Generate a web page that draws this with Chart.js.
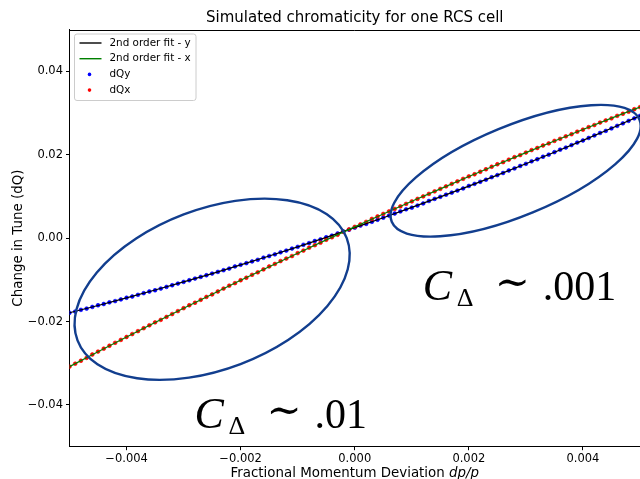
<!DOCTYPE html>
<html>
<head>
<meta charset="utf-8">
<script src="https://cdn.jsdelivr.net/npm/chart.js@4.4.1/dist/chart.umd.min.js"></script>
<style>
  html, body { margin: 0; padding: 0; background: #fff; }
  #chart { display: block; }
</style>
</head>
<body>
<canvas id="chart" width="640" height="479"></canvas>
<script>
// momentum deviation dp/p for each simulated point
const dpp = [
  -0.0050, -0.0049, -0.0048, -0.0047, -0.0046, -0.0045, -0.0044, -0.0043, -0.0042, -0.0041,
  -0.0040, -0.0039, -0.0038, -0.0037, -0.0036, -0.0035, -0.0034, -0.0033, -0.0032, -0.0031,
  -0.0030, -0.0029, -0.0028, -0.0027, -0.0026, -0.0025, -0.0024, -0.0023, -0.0022, -0.0021,
  -0.0020, -0.0019, -0.0018, -0.0017, -0.0016, -0.0015, -0.0014, -0.0013, -0.0012, -0.0011,
  -0.0010, -0.0009, -0.0008, -0.0007, -0.0006, -0.0005, -0.0004, -0.0003, -0.0002, -0.0001,
  0.0000,
  0.0001, 0.0002, 0.0003, 0.0004, 0.0005, 0.0006, 0.0007, 0.0008, 0.0009, 0.0010,
  0.0011, 0.0012, 0.0013, 0.0014, 0.0015, 0.0016, 0.0017, 0.0018, 0.0019, 0.0020,
  0.0021, 0.0022, 0.0023, 0.0024, 0.0025, 0.0026, 0.0027, 0.0028, 0.0029, 0.0030,
  0.0031, 0.0032, 0.0033, 0.0034, 0.0035, 0.0036, 0.0037, 0.0038, 0.0039, 0.0040,
  0.0041, 0.0042, 0.0043, 0.0044, 0.0045, 0.0046, 0.0047, 0.0048, 0.0049, 0.0050
];
const dQy = [
  -0.0179, -0.0176, -0.0172, -0.0169, -0.0165, -0.0161, -0.0158, -0.0154, -0.0151, -0.0147,
  -0.0143, -0.0140, -0.0136, -0.0132, -0.0128, -0.0125, -0.0121, -0.0117, -0.0113, -0.0109,
  -0.0105, -0.0101, -0.0097, -0.0093, -0.0089, -0.0085, -0.0081, -0.0077, -0.0073, -0.0068,
  -0.0064, -0.0060, -0.0056, -0.0052, -0.0047, -0.0043, -0.0039, -0.0034, -0.0030, -0.0025,
  -0.0021, -0.0016, -0.0012, -0.0007, -0.0003, 0.0002, 0.0006, 0.0011, 0.0016, 0.0020,
  0.0025,
  0.0030, 0.0034, 0.0039, 0.0044, 0.0049, 0.0054, 0.0059, 0.0064, 0.0069, 0.0073,
  0.0078, 0.0083, 0.0089, 0.0094, 0.0099, 0.0104, 0.0109, 0.0114, 0.0119, 0.0125,
  0.0130, 0.0135, 0.0140, 0.0146, 0.0151, 0.0156, 0.0162, 0.0167, 0.0173, 0.0178,
  0.0184, 0.0189, 0.0195, 0.0200, 0.0206, 0.0212, 0.0217, 0.0223, 0.0229, 0.0234,
  0.0240, 0.0246, 0.0252, 0.0257, 0.0263, 0.0269, 0.0275, 0.0281, 0.0287, 0.0293
];
const dQx = [
  -0.0308, -0.0301, -0.0294, -0.0287, -0.0279, -0.0272, -0.0265, -0.0258, -0.0251, -0.0244,
  -0.0237, -0.0230, -0.0223, -0.0216, -0.0209, -0.0202, -0.0196, -0.0189, -0.0182, -0.0175,
  -0.0168, -0.0161, -0.0155, -0.0148, -0.0141, -0.0135, -0.0128, -0.0121, -0.0114, -0.0108,
  -0.0101, -0.0095, -0.0088, -0.0082, -0.0075, -0.0068, -0.0062, -0.0055, -0.0049, -0.0043,
  -0.0036, -0.0030, -0.0023, -0.0017, -0.0011, -0.0004, 0.0002, 0.0008, 0.0015, 0.0021,
  0.0027,
  0.0033, 0.0039, 0.0046, 0.0052, 0.0058, 0.0064, 0.0070, 0.0076, 0.0082, 0.0088,
  0.0094, 0.0100, 0.0106, 0.0112, 0.0118, 0.0124, 0.0130, 0.0136, 0.0142, 0.0148,
  0.0153, 0.0159, 0.0165, 0.0171, 0.0177, 0.0182, 0.0188, 0.0194, 0.0199, 0.0205,
  0.0211, 0.0216, 0.0222, 0.0227, 0.0233, 0.0238, 0.0244, 0.0249, 0.0255, 0.0260,
  0.0266, 0.0271, 0.0277, 0.0282, 0.0287, 0.0293, 0.0298, 0.0303, 0.0309, 0.0314
];

// 2nd order fits, sampled on a coarser grid
const fitDpp = [
  -0.0050, -0.0045, -0.0040, -0.0035, -0.0030, -0.0025, -0.0020, -0.0015, -0.0010, -0.0005,
  0.0000, 0.0005, 0.0010, 0.0015, 0.0020, 0.0025, 0.0030, 0.0035, 0.0040, 0.0045, 0.0050
];
const fitY = [
  -0.01790, -0.01615, -0.01433, -0.01245, -0.01051, -0.00850, -0.00643, -0.00429, -0.00209, 0.00017,
  0.00250, 0.00489, 0.00735, 0.00987, 0.01245, 0.01510, 0.01781, 0.02059, 0.02343, 0.02633, 0.02930
];
const fitX = [
  -0.03080, -0.02723, -0.02372, -0.02025, -0.01682, -0.01345, -0.01012, -0.00685, -0.00362, -0.00043,
  0.00270, 0.00579, 0.00882, 0.01181, 0.01476, 0.01765, 0.02050, 0.02329, 0.02604, 0.02875, 0.03140
];

const seriesNames = ['2nd order fit - y', '2nd order fit - x', 'dQy', 'dQx'];
const xTicks = [-0.004, -0.002, 0, 0.002, 0.004];
const xTickLabels = ['\u22120.004', '\u22120.002', '0.000', '0.002', '0.004'];
const yTicks = [-0.04, -0.02, 0, 0.02, 0.04];
const yTickLabels = ['\u22120.04', '\u22120.02', '0.00', '0.02', '0.04'];

// hand drawn annotations (centre in data units, radii in px)
const rings = [
  { x: -0.0025, y: -0.01226, rx: 144, ry: 80, angle: -20.8 },
  { x: 0.00282, y: 0.01614, rx: 134, ry: 45, angle: -22.4 }
];
const notes = [
  { x: 0.00119, y: -0.0148, value: '.001' },
  { x: -0.00281, y: -0.0454, value: '.01' }
];

const ctx = document.getElementById('chart').getContext('2d');

function pts(xs, ys) {
  return xs.map((v, i) => ({ x: v, y: ys[i] }));
}

// no extra room for overhanging tick labels, the frame fills the canvas
function noPad(s) {
  s.paddingLeft = 0;
  s.paddingRight = 0;
  s.paddingTop = 0;
  s.paddingBottom = 0;
}

// draws the title, axis labels, frame, legend and annotations
const overlay = {
  id: 'overlay',
  afterDraw(chart) {
    const c = chart.ctx;
    const a = chart.chartArea;
    const sx = chart.scales.x, sy = chart.scales.y;
    c.save();

    // top spine
    c.strokeStyle = '#000';
    c.lineWidth = 1;
    c.beginPath();
    c.moveTo(a.left, Math.round(a.top) + 0.5);
    c.lineTo(a.right, Math.round(a.top) + 0.5);
    c.stroke();

    // ellipses
    c.strokeStyle = '#123e8e';
    c.lineWidth = 2.4;
    rings.forEach(r => {
      c.beginPath();
      c.ellipse(sx.getPixelForValue(r.x), sy.getPixelForValue(r.y), r.rx, r.ry,
        r.angle * Math.PI / 180, 0, Math.PI * 2);
      c.stroke();
    });

    // C_delta notes
    c.fillStyle = '#000';
    c.textAlign = 'left';
    c.textBaseline = 'alphabetic';
    notes.forEach(n => {
      const px = sx.getPixelForValue(n.x), py = sy.getPixelForValue(n.y);
      c.font = 'italic 44px "Liberation Serif"';
      c.fillText('C', px, py);
      c.font = '26px "Liberation Serif"';
      c.fillText('\u0394', px + 34, py + 6);
      c.font = '42px "DejaVu Serif"';
      c.fillText('\u223C', px + 72, py - 4);
      c.font = '42px "Liberation Serif"';
      c.fillText(n.value, px + 120, py);
    });

    // title
    const mid = (a.left + a.right) / 2;
    c.textAlign = 'center';
    c.font = '15px "DejaVu Sans"';
    c.fillText('Simulated chromaticity for one RCS cell', mid, 21.7);

    // x label, dp/p in italic
    const part1 = 'Fractional Momentum Deviation ';
    const part2 = 'dp/p';
    c.font = '13.4px "DejaVu Sans"';
    const w1 = c.measureText(part1).width;
    c.font = 'italic 13.4px "DejaVu Sans"';
    const w2 = c.measureText(part2).width;
    let lx = mid - (w1 + w2) / 2;
    c.textAlign = 'left';
    c.font = '13.4px "DejaVu Sans"';
    c.fillText(part1, lx, 477);
    c.font = 'italic 13.4px "DejaVu Sans"';
    c.fillText(part2, lx + w1, 477);

    // y label
    c.save();
    c.translate(18.5, (a.top + a.bottom) / 2);
    c.rotate(-Math.PI / 2);
    c.textAlign = 'center';
    c.textBaseline = 'middle';
    c.font = '13.4px "DejaVu Sans"';
    c.fillText('Change in Tune (dQ)', 0, 0);
    c.restore();

    // legend
    const bx = a.left + 5, by = a.top + 4.5, bw = 121.5, bh = 66.5;
    c.beginPath();
    c.roundRect(bx, by, bw, bh, 2.5);
    c.fillStyle = 'rgba(255,255,255,0.8)';
    c.fill();
    c.strokeStyle = '#cccccc';
    c.lineWidth = 1;
    c.stroke();
    const order = [1, 0, 3, 2];
    c.font = '10.4px "DejaVu Sans"';
    c.textBaseline = 'middle';
    seriesNames.forEach((name, i) => {
      const ds = chart.data.datasets[order[i]];
      const ry = by + 9 + i * 15.7;
      if (ds.showLine) {
        c.strokeStyle = ds.borderColor;
        c.lineWidth = 1.4;
        c.beginPath();
        c.moveTo(bx + 5, ry);
        c.lineTo(bx + 27, ry);
        c.stroke();
      } else {
        c.fillStyle = ds.pointBackgroundColor;
        c.beginPath();
        c.arc(bx + 15, ry, 1.8, 0, Math.PI * 2);
        c.fill();
      }
      c.fillStyle = '#000';
      c.fillText(name, bx + 35, ry);
    });

    c.restore();
  }
};

const tickFont = { family: 'DejaVu Sans', size: 11.5 };

new Chart(ctx, {
  type: 'scatter',
  data: {
    datasets: [
      {
        label: seriesNames[1],
        data: pts(fitDpp, fitX),
        showLine: true,
        borderColor: '#008000',
        borderWidth: 1.2,
        pointRadius: 0,
        order: 0
      },
      {
        label: seriesNames[0],
        data: pts(fitDpp, fitY),
        showLine: true,
        borderColor: '#000000',
        borderWidth: 1.2,
        pointRadius: 0,
        order: 1
      },
      {
        label: seriesNames[3],
        data: pts(dpp, dQx),
        pointRadius: 1.9,
        pointBorderWidth: 0.6,
        pointBackgroundColor: '#ff0000',
        pointBorderColor: '#ff0000',
        order: 2
      },
      {
        label: seriesNames[2],
        data: pts(dpp, dQy),
        pointRadius: 1.9,
        pointBorderWidth: 0.6,
        pointBackgroundColor: '#0000ff',
        pointBorderColor: '#0000ff',
        order: 3
      }
    ]
  },
  options: {
    responsive: false,
    animation: false,
    devicePixelRatio: 1,
    events: [],
    layout: { autoPadding: false, padding: { top: 29.5, left: 0, right: 0, bottom: 0 } },
    plugins: {
      legend: { display: false },
      title: { display: false },
      tooltip: { enabled: false }
    },
    scales: {
      x: {
        type: 'linear',
        min: -0.005,
        max: 0.005,
        afterFit: s => { s.height = 32.3; noPad(s); },
        afterBuildTicks: s => { s.ticks = xTicks.map(v => ({ value: v })); },
        border: { display: true, color: '#000', width: 1 },
        grid: { drawOnChartArea: false, drawTicks: true, tickLength: 3.5, color: '#000' },
        ticks: {
          font: tickFont,
          color: '#000',
          padding: 1.5,
          maxRotation: 0,
          autoSkip: false,
          callback: v => xTickLabels[xTicks.indexOf(v)]
        }
      },
      y: {
        type: 'linear',
        min: -0.05,
        max: 0.05,
        afterFit: s => { s.width = 69.5; noPad(s); },
        afterBuildTicks: s => { s.ticks = yTicks.map(v => ({ value: v })); },
        border: { display: true, color: '#000', width: 1 },
        grid: { drawOnChartArea: false, drawTicks: true, tickLength: 3.5, color: '#000' },
        ticks: {
          font: tickFont,
          color: '#000',
          padding: 3,
          autoSkip: false,
          callback: v => yTickLabels[yTicks.indexOf(v)]
        }
      }
    }
  },
  plugins: [overlay]
});
</script>
</body>
</html>
